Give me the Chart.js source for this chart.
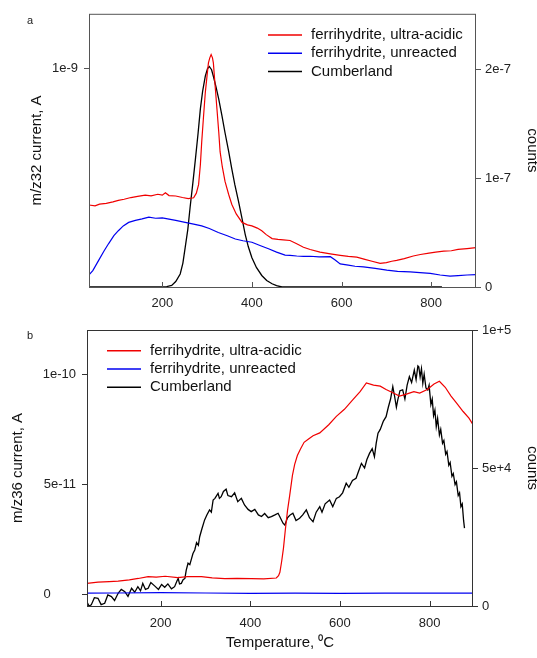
<!DOCTYPE html>
<html>
<head>
<meta charset="utf-8">
<script src="https://cdn.jsdelivr.net/npm/chart.js@4.4.1/dist/chart.umd.min.js"></script>
<style>
  body { margin: 0; background: #fff; }
  #wrap { position: relative; width: 537px; height: 658px; }
  canvas { position: absolute; left: 0; }
</style>
</head>
<body>
<div id="wrap">
  <canvas id="chart-a" width="537" height="310" style="top:0"></canvas>
  <canvas id="chart-b" width="537" height="348" style="top:310px"></canvas>
</div>
<script>
// series names (legend)
var seriesNames = ["ferrihydrite, ultra-acidic", "ferrihydrite, unreacted", "Cumberland"];

// x axis (temperature, C)
var xTicks = [200, 400, 600, 800];
var xTickLabels = ["200", "400", "600", "800"];

// panel a: m/z32 current (units of 1e-9 A) -- [temperature, value]
var aAcidic = [[36,.376],[50,.372],[60,.38],[75,.383],[90,.39],[102,.397],[115,.402],[130,.41],[145,.415],[162,.421],
  [175,.418],[190,.425],[200,.421],[207,.432],[215,.419],[230,.417],[245,.41],[258,.405],[270,.409],[276,.43],[281,.469],
  [285,.56],[288,.665],[292,.78],[296,.891],[300,.97],[303,1.027],[306,1.05],[309,1.065],[312,1.05],[314,1.027],[318,.92],
  [322,.816],[326,.71],[329,.62],[334,.55],[340,.484],[348,.425],[355,.379],[365,.335],[378,.296],[390,.285],[400,.28],
  [412,.27],[422,.258],[432,.24],[445,.222],[458,.218],[470,.216],[485,.213],[500,.198],[515,.182],[530,.172],[552,.16],
  [575,.152],[597,.145],[615,.14],[634,.137],[650,.128],[668,.118],[686,.108],[700,.112],[712,.118],[723,.122],[740,.13],
  [760,.142],[776,.149],[795,.155],[810,.16],[828,.164],[845,.166],[860,.172],[880,.176],[900,.18]];
var aUnreacted = [[36,.054],[45,.075],[58,.122],[70,.165],[80,.198],[92,.235],[102,.258],[113,.28],[125,.296],[140,.305],
  [155,.312],[170,.32],[185,.315],[200,.317],[215,.311],[230,.305],[251,.296],[270,.288],[288,.28],[305,.268],[325,.25],
  [345,.235],[363,.22],[380,.212],[400,.205],[418,.19],[437,.175],[455,.16],[474,.146],[485,.145],[500,.142],[515,.14],
  [530,.141],[550,.138],[575,.139],[585,.125],[597,.106],[615,.1],[630,.095],[649,.092],[675,.085],[701,.077],[725,.072],
  [753,.069],[775,.066],[798,.062],[820,.055],[842,.05],[860,.052],[880,.055],[900,.057]];
// Cumberland on right axis (units of 1e-7)
var aCumberland = [[37,0],[100,0],[150,0],[200,0],[210,.004],[221,.015],[230,.05],[240,.12],[246,.22],[251,.36],[257,.53],
  [262,.73],[268,.95],[274,1.18],[280,1.42],[285,1.64],[290,1.8],[296,1.94],[301,2.01],[305,2.03],[310,2.0],[314,1.94],
  [320,1.84],[326,1.73],[333,1.58],[340,1.42],[348,1.25],[355,1.09],[362,.94],[370,.79],[378,.63],[385,.485],[392,.37],
  [400,.27],[410,.18],[422,.106],[433,.06],[445,.03],[455,.012],[467,0],[600,0],[700,0],[824,0]];
var aLeftTicks = [1], aLeftLabels = ["1e-9"];
var aRightTicks = [0, 1, 2], aRightLabels = ["0", "1e-7", "2e-7"];

// panel b: m/z36 current (units of 1e-11 A)
var bAcidic = [[35,.5],[60,.55],[85,.58],[105,.6],[130,.66],[150,.72],[172,.8],[190,.78],[210,.82],[238,.76],[260,.8],
  [291,.8],[315,.75],[343,.71],[370,.72],[402,.71],[430,.7],[458,.74],[463,.85],[466,1.0],[470,1.5],[474,2.1],[478,2.9],
  [483,3.8],[488,4.5],[494,5.4],[499,5.9],[505,6.3],[512,6.6],[520,6.9],[530,7.05],[540,7.2],[555,7.33],[575,7.7],
  [592,8.08],[610,8.4],[629,8.84],[645,9.2],[659,9.6],[675,9.5],[690,9.45],[703,9.3],[718,9.15],[733,9.0],[750,9.1],
  [765,9.2],[778,9.14],[795,9.3],[810,9.55],[822,9.67],[835,9.4],[848,9.0],[860,8.69],[875,8.3],[888,8.0],[897,7.7]];
var bUnreacted = [[35,.05],[100,.06],[200,.08],[300,.06],[400,.04],[500,.05],[600,.04],[700,.05],[800,.05],[897,.05]];
// Cumberland on right axis (units of 1e4 counts)
var bCumberland = [[35,.16],[40,0],[45,.04],[52,.3],[60,.28],[67,.05],[75,.1],[82,.4],[90,.34],[97,.2],[105,.46],[112,.6],
  [120,.52],[127,.35],[135,.64],[142,.5],[149,.7],[155,.55],[160,.82],[166,.6],[172,.64],[178,.85],[187,.72],[195,.6],
  [202,.78],[209,.68],[216,.8],[224,.62],[231,.7],[236,.9],[239,1.0],[242,.8],[246,.82],[250,.95],[254,1.0],[257,1.3],
  [261,1.55],[265,1.5],[268,1.67],[272,1.9],[276,2.03],[280,2.3],[284,2.2],[287,2.51],[292,2.8],[298,3.12],[303,3.3],
  [309,3.48],[313,3.4],[317,3.84],[321,3.9],[328,4.08],[331,3.9],[335,3.96],[340,4.15],[346,4.23],[350,4.0],[358,3.96],
  [365,4.1],[372,3.78],[380,3.9],[387,3.66],[395,3.5],[402,3.42],[410,3.5],[418,3.3],[425,3.24],[432,3.35],[440,3.2],
  [447,3.24],[455,3.3],[462,3.36],[467,3.2],[473,3.0],[477,2.93],[483,3.2],[489,3.3],[495,3.36],[502,3.1],[510,3.18],
  [517,3.3],[525,3.48],[532,3.2],[540,3.05],[547,3.4],[555,3.6],[560,3.4],[567,3.7],[577,3.84],[584,3.6],[592,3.9],
  [599,3.96],[606,4.1],[614,4.45],[620,4.3],[628,4.55],[636,4.63],[642,4.9],[648,5.17],[655,5.0],[660,5.3],[666,5.53],
  [672,5.7],[677,5.41],[681,5.9],[685,6.26],[690,6.4],[697,6.7],[703,6.86],[708,7.2],[713,7.5],[718,7.95],[722,7.6],
  [726,7.2],[729,7.46],[734,7.8],[740,7.83],[745,7.5],[750,8.0],[755,8.31],[760,8.1],[766,8.55],[770,8.2],[774,8.7],
  [776,8.67],[779,8.3],[782,8.6],[785,8.07],[788,8.4],[792,7.9],[796,7.83],[799,8.0],[803,7.3],[806,7.5],[809,6.9],
  [812,7.1],[815,6.5],[818,6.8],[822,6.2],[825,6.4],[829,5.9],[832,6.0],[836,5.5],[839,5.6],[843,5.1],[846,5.2],
  [850,4.7],[853,4.8],[857,4.4],[860,4.5],[864,4.0],[867,4.1],[870,3.6],[873,3.7],[876,3.1],[878,2.82]];
var bLeftTicks = [0, 5, 10], bLeftLabels = ["0       ", "5e-11", "1e-10"];
var bRightTicks = [0, 5, 10], bRightLabels = ["0", "5e+4", "1e+5"];

var colors = ["#f00000", "#0000f0", "#000000"];
var FONT = "'Liberation Sans', Arial, sans-serif";

function toXY(arr) { return arr.map(function (p) { return { x: p[0], y: p[1] }; }); }

function fixTicks(vals) {
  return function (scale) { scale.ticks = vals.map(function (v) { return { value: v }; }); };
}

// frame, inward x ticks, legend and panel letter
var decorPlugin = {
  id: "decor",
  afterDraw: function (chart) {
    var o = chart.options.plugins.decor;
    var ctx = chart.ctx, ca = chart.chartArea, xs = chart.scales.x;
    ctx.save();
    ctx.strokeStyle = o.frame;
    ctx.lineWidth = 1;
    ctx.strokeRect(ca.left + 0.5, ca.top + 0.5, ca.right - ca.left - 1, ca.bottom - ca.top);
    xTicks.forEach(function (v) {
      var px = Math.round(xs.getPixelForValue(v)) + 0.5;
      ctx.beginPath();
      ctx.moveTo(px, ca.bottom);
      ctx.lineTo(px, ca.bottom - 5);
      ctx.stroke();
    });
    ctx.font = "15px " + FONT;
    ctx.textBaseline = "middle";
    ctx.fillStyle = "#111";
    chart.data.datasets.forEach(function (ds, i) {
      var y = o.legendY + i * 18.3;
      ctx.strokeStyle = ds.borderColor;
      ctx.lineWidth = 1.5;
      ctx.beginPath();
      ctx.moveTo(o.legendX, y);
      ctx.lineTo(o.legendX + 34, y);
      ctx.stroke();
      ctx.fillText(ds.label, o.legendX + 43, y);
    });
    ctx.font = "11px " + FONT;
    ctx.fillStyle = "#222";
    ctx.textAlign = "center";
    ctx.fillText(o.letter, 30, o.letterY);
    ctx.restore();
  }
};

function makeChart(id, p) {
  var tickFont = { family: FONT, size: 13 };
  var titleFont = { family: FONT, size: 15 };
  return new Chart(document.getElementById(id), {
    type: "line",
    data: {
      datasets: [
        { label: seriesNames[0], data: toXY(p.acidic), yAxisID: "y", borderColor: colors[0], borderWidth: 1.2 },
        { label: seriesNames[1], data: toXY(p.unreacted), yAxisID: "y", borderColor: colors[1], borderWidth: 1.2 },
        { label: seriesNames[2], data: toXY(p.cumberland), yAxisID: "y1", borderColor: colors[2], borderWidth: 1.3 }
      ]
    },
    options: {
      responsive: false,
      animation: false,
      devicePixelRatio: 1,
      layout: { padding: { top: p.padTop, left: 0, right: 0, bottom: 0 } },
      elements: { point: { radius: 0 }, line: { tension: 0 } },
      plugins: {
        legend: { display: false },
        tooltip: { enabled: false },
        decor: { frame: p.frame, legendX: p.legendX, legendY: p.legendY, letter: p.letter, letterY: p.letterY }
      },
      scales: {
        x: {
          type: "linear", min: p.xMin, max: 900 - p.xCut,
          afterBuildTicks: fixTicks(xTicks),
          afterFit: function (s) { s.height = p.xHeight; },
          grid: { drawOnChartArea: false, drawTicks: false },
          border: { display: false },
          ticks: { font: tickFont, color: "#222", padding: p.xPad, maxRotation: 0,
            callback: function (v, i) { return xTickLabels[i]; } },
          title: { display: !!p.xTitle, text: p.xTitle, font: titleFont, color: "#111", padding: { top: 0, bottom: 6 } }
        },
        y: {
          position: "left", min: p.yMin, max: p.yMax,
          afterBuildTicks: fixTicks(p.leftTicks),
          afterFit: function (s) { s.width = p.leftWidth; },
          grid: { drawOnChartArea: false, tickLength: 5, color: p.frame },
          border: { display: false },
          ticks: { font: tickFont, color: "#222", padding: 6,
            callback: function (v, i) { return p.leftLabels[i]; } },
          title: { display: true, text: p.yTitle, font: titleFont, color: "#111", padding: { top: p.yTitlePad, bottom: 0 } }
        },
        y1: {
          position: "right", min: p.y1Min, max: p.y1Max,
          afterBuildTicks: fixTicks(p.rightTicks),
          afterFit: function (s) { s.width = p.rightWidth; },
          grid: { drawOnChartArea: false, tickLength: 5, color: p.frame },
          border: { display: false },
          ticks: { font: tickFont, color: "#222", padding: 4,
            callback: function (v, i) { return p.rightLabels[i]; } },
          title: { display: true, text: "counts", font: { family: FONT, size: 15, lineHeight: 0.7 }, color: "#111",
            padding: { top: 0, bottom: 0 } }
        }
      }
    },
    plugins: [decorPlugin]
  });
}

makeChart("chart-a", {
  acidic: aAcidic, unreacted: aUnreacted, cumberland: aCumberland,
  padTop: 10, xMin: 36.5, xCut: 0, xHeight: 23, xPad: 9, xTitle: "",
  yMin: 0, yMax: 1.252, leftTicks: aLeftTicks, leftLabels: aLeftLabels, leftWidth: 89,
  yTitle: "m/z32 current, A", yTitlePad: 28,
  y1Min: 0, y1Max: 2.515, rightTicks: aRightTicks, rightLabels: aRightLabels, rightWidth: 61,
  frame: "#555", legendX: 268, legendY: 35, letter: "a", letterY: 21
});

makeChart("chart-b", {
  acidic: bAcidic, unreacted: bUnreacted, cumberland: bCumberland,
  padTop: 20, xMin: 35.5, xCut: 3, xHeight: 52, xPad: 10, xTitle: "Temperature, \u2070C",
  yMin: -0.53, yMax: 12.0, leftTicks: bLeftTicks, leftLabels: bLeftLabels, leftWidth: 87,
  yTitle: "m/z36 current, A", yTitlePad: 9,
  y1Min: 0, y1Max: 10, rightTicks: bRightTicks, rightLabels: bRightLabels, rightWidth: 64,
  frame: "#333", legendX: 107, legendY: 40.7, letter: "b", letterY: 26
});
</script>
</body>
</html>
